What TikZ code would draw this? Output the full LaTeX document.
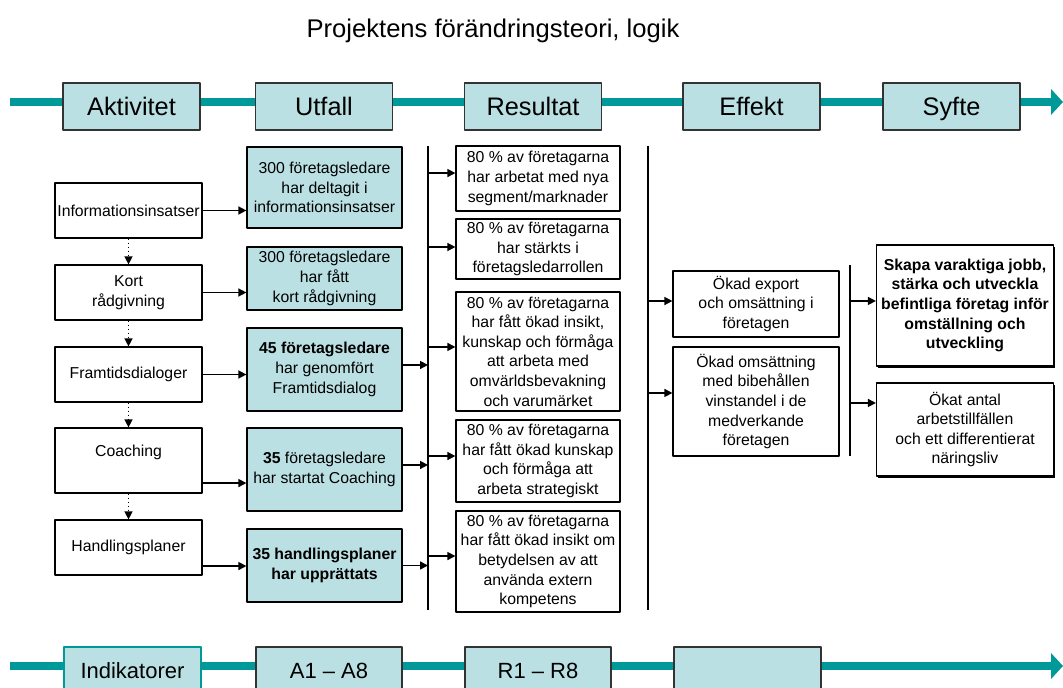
\documentclass[tikz,border=0pt]{standalone}
\usepackage{fontspec}
\setmainfont{Liberation Sans}
\usetikzlibrary{arrows.meta,shadows}
\definecolor{barteal}{HTML}{009999}
\definecolor{paleblue}{HTML}{BBE0E3}

\begin{document}
\begin{tikzpicture}[x=0.75pt, y=-0.75pt, line join=round, >={Triangle[length=6pt,width=6pt]},
    bodytext/.style={font=\fontsize{11.85}{14.7}\selectfont},
    actbox/.style={draw=black, line width=0.9pt, fill=white, align=center, inner sep=1pt, bodytext},
    outbox/.style={actbox, fill=paleblue},
    goalbox/.style={actbox, drop shadow={shadow xshift=1.4pt, shadow yshift=-1.4pt, fill=black, opacity=1}},
    headbox/.style={draw=black!80, line width=0.8pt, fill=paleblue, minimum width=102.75pt, minimum height=35.25pt,
        text height=16pt, text depth=2pt, font=\fontsize{19}{23}\selectfont},
    footbox/.style={headbox, minimum width=109.5pt, text height=14pt, text depth=1.5pt, font=\fontsize{16.5}{20}\selectfont},
    tealbar/.style={barteal, line width=6.5pt, -{Triangle[length=9pt,width=19pt]}},
    flow/.style={->, line width=1.1pt},
    dotflow/.style={->, line width=1pt, dotted},
    busline/.style={line width=1.1pt}]
    \useasboundingbox (0,0) rectangle (1063,688);
    \def \aw{110.25pt}
    \def \uw{116.25pt}
    \def \rw{123pt}
    \def \ew{124.5pt}
    \def \sw{132.75pt}

    \node[anchor=base, font=\fontsize{19.2}{23}\selectfont] (title) at (493,38) {Projektens förändringsteori, logik};

    % top and bottom bars
    \coordinate (topL) at (10,102);
    \coordinate (topR) at (1063,102);
    \coordinate (botL) at (10,666);
    \coordinate (botR) at (1063,666);
    \draw[tealbar] (topL) -- (topR);
    \draw[tealbar] (botL) -- (botR);

    \node[headbox] (hAkt) at (131.5,106.5) {Aktivitet};
    \node[headbox] (hUtf) at (324,106.5) {Utfall};
    \node[headbox] (hRes) at (533,106.5) {Resultat};
    \node[headbox] (hEff) at (751.5,106.5) {Effekt};
    \node[headbox] (hSyf) at (951.5,106.5) {Syfte};

    \node[footbox, draw=barteal, minimum width=102.75pt] (fInd) at (132.5,670.5) {Indikatorer};
    \node[footbox] (fA) at (329,670.5) {A1 -- A8};
    \node[footbox] (fR) at (538,670.5) {R1 -- R8};
    \node[footbox, minimum width=110.25pt] (fE) at (747.5,670.5) {};

    % aktiviteter
    \node[actbox, minimum width=\aw, minimum height=41.25pt] (a1) at (128.5,210.5) {Informationsinsatser};
    \node[actbox, minimum width=\aw, minimum height=41.25pt] (a2) at (128.5,292.5) {Kort\\rådgivning};
    \node[actbox, minimum width=\aw, minimum height=41.25pt] (a3) at (128.5,374.5) {Framtidsdialoger};
    \node[actbox, minimum width=\aw, minimum height=48.75pt] (a4) at (128.5,460.5) {Coaching\\\mbox{}};
    \node[actbox, minimum width=\aw, minimum height=41.25pt] (a5) at (128.5,547.5) {Handlingsplaner};

    % utfall
    \node[outbox, minimum width=\uw, minimum height=60.75pt] (u1) at (324.5,187.5) {300 företagsledare\\har deltagit i\\informationsinsatser};
    \node[outbox, minimum width=\uw, minimum height=47.25pt] (u2) at (324.5,278.5) {300 företagsledare\\har fått\\kort rådgivning};
    \node[outbox, minimum width=\uw, minimum height=62.25pt] (u3) at (324.5,369.5) {\textbf{45 företagsledare}\\har genomfört\\Framtidsdialog};
    \node[outbox, minimum width=\uw, minimum height=62.25pt] (u4) at (324.5,469.5) {\textbf{35} företagsledare\\har startat Coaching};
    \node[outbox, minimum width=\uw, minimum height=54.75pt] (u5) at (324.5,565.5) {\textbf{35 handlingsplaner}\\\textbf{har upprättats}};

    % resultat
    \node[actbox, minimum width=\rw, minimum height=48.75pt] (r1) at (538,178.5) {80 \% av företagarna\\har arbetat med nya\\segment/marknader};
    \node[actbox, minimum width=\rw, minimum height=45pt] (r2) at (538,249) {80 \% av företagarna\\har stärkts i\\företagsledarrollen};
    \node[actbox, minimum width=\rw, minimum height=89.25pt] (r3) at (538,351.5) {80 \% av företagarna\\har fått ökad insikt,\\kunskap och förmåga\\att arbeta med\\omvärldsbevakning\\och varumärket};
    \node[actbox, minimum width=\rw, minimum height=61.5pt] (r4) at (538,461) {80 \% av företagarna\\har fått ökad kunskap\\och förmåga att\\arbeta strategiskt};
    \node[actbox, minimum width=\rw, minimum height=75.75pt] (r5) at (538,561.5) {80 \% av företagarna\\har fått ökad insikt om\\betydelsen av att\\använda extern\\kompetens};

    % effekt och syfte
    \node[actbox, minimum width=\ew, minimum height=49.5pt] (e1) at (756,304) {Ökad export\\och omsättning i\\företagen};
    \node[actbox, minimum width=\ew, minimum height=81.75pt] (e2) at (756,401.5) {Ökad omsättning\\med bibehållen\\vinstandel i de\\medverkande\\företagen};
    \node[goalbox, minimum width=\sw, minimum height=90.75pt, font=\fontsize{11.85}{14.7}\selectfont\bfseries] (s1) at (965,305.5) {Skapa varaktiga jobb,\\stärka och utveckla\\befintliga företag inför\\omställning och\\utveckling};
    \node[goalbox, minimum width=\sw, minimum height=69.75pt] (s2) at (965,429.5) {Ökat antal\\arbetstillfällen\\och ett differentierat\\näringsliv};

    % samlingslinjer
    \coordinate (b1t) at (428,146);
    \coordinate (b1b) at (428,610);
    \coordinate (b2t) at (648,146);
    \coordinate (b2b) at (648,610);
    \coordinate (b3t) at (850,265);
    \coordinate (b3b) at (850,456);
    \draw[busline] (b1t) -- (b1b);
    \draw[busline] (b2t) -- (b2b);
    \draw[busline] (b3t) -- (b3b);

    \foreach \n [count=\m from 2] in {1,...,4}
        \draw[dotflow] (a\n) -- (a\m);
    \foreach \n/\s in {1/0,2/0,3/0,4/-16.9,5/-13.9}
        \draw[flow] ([yshift=\s pt]a\n.east) -- ([yshift=\s pt]a\n.east -| u\n.west);
    \foreach \n/\s in {3/3.4,4/3.4,5/0}
        \draw[flow] ([yshift=\s pt]u\n.east) -- ([yshift=\s pt]u\n.east -| b1t);
    \foreach \n/\s in {1/4.1,2/1.5,3/3.4,4/3.75,5/4.1}
        \draw[flow] ([yshift=\s pt]r\n.west -| b1t) -- ([yshift=\s pt]r\n.west);
    \foreach \n/\s in {1/2.25,2/6.4}
        \draw[flow] ([yshift=\s pt]e\n.west -| b2t) -- ([yshift=\s pt]e\n.west);
    \foreach \n/\s in {1/3.4,2/19.9}
        \draw[flow] ([yshift=\s pt]s\n.west -| b3t) -- ([yshift=\s pt]s\n.west);
\end{tikzpicture}
\end{document}
